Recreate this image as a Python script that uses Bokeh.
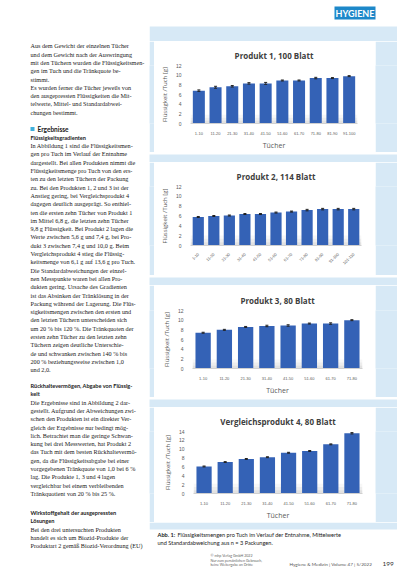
import math
from bokeh.plotting import figure
from bokeh.models import Range1d, FactorRange, ColumnDataSource, Whisker, FixedTicker, BoxAnnotation, Label
from bokeh.layouts import row, column
from bokeh.embed import file_html
from bokeh.resources import INLINE
from bokeh.core.properties import value

# ---------------- data ----------------
c1_cats = ["1-10", "11-20", "21-30", "31-40", "41-50", "51-60", "61-70", "71-80", "81-90", "91-100"]
c1_vals = [6.8, 7.5, 7.7, 8.3, 8.3, 8.9, 8.9, 9.4, 9.4, 9.8]
c1_sd = [0.15, 0.2, 0.15, 0.15, 0.2, 0.1, 0.1, 0.15, 0.1, 0.1]

c2_cats = ["1-10", "11-20", "21-30", "31-40", "41-50", "51-60", "61-70", "71-80", "81-90", "91-100", "101-110"]
c2_vals = [5.8, 6.0, 6.1, 6.4, 6.4, 6.7, 6.9, 7.2, 7.4, 7.4, 7.4]
c2_sd = [0.1, 0.1, 0.1, 0.1, 0.1, 0.1, 0.1, 0.15, 0.15, 0.15, 0.15]

c3_cats = ["1-10", "11-20", "21-30", "31-40", "41-50", "51-60", "61-70", "71-80"]
c3_vals = [7.4, 8.0, 8.6, 8.8, 8.9, 9.3, 9.3, 10.0]
c3_sd = [0.1, 0.1, 0.1, 0.15, 0.15, 0.1, 0.15, 0.1]

c4_cats = ["1-10", "11-20", "21-30", "31-40", "41-50", "51-60", "61-70", "71-80"]
c4_vals = [6.1, 7.1, 7.8, 8.2, 9.2, 9.6, 11.1, 13.6]
c4_sd = [0.1, 0.1, 0.1, 0.1, 0.1, 0.1, 0.1, 0.15]

titles = ["Produkt 1, 100 Blatt", "Produkt 2, 114 Blatt", "Produkt 3, 80 Blatt", "Vergleichsprodukt 4, 80 Blatt"]
y_label = "Flüssigkeit /Tuch [g]"
x_label = "Tücher"
x_note = "(z.g. Vergleichbarkeit ohne Blatt 111-114)"

body_p1 = [
    "Aus dem Gewicht der einzelnen Tücher",
    "und dem Gewicht nach der Auswringung",
    "mit den Tüchern wurden die Flüssigkeitsmen-",
    "gen im Tuch und die Tränkquote be-",
    "stimmt.",
    "   Es wurden ferner die Tücher jeweils von",
    "den ausgepressten Flüssigkeiten die Mit-",
    "telwerte, Mittel- und Standardabwei-",
    "chungen bestimmt.",
]
head_1 = "Ergebnisse"
head_1b = "Flüssigkeitsgradienten"
body_p2 = [
    "In Abbildung 1 sind die Flüssigkeitsmen-",
    "gen pro Tuch im Verlauf der Entnahme",
    "dargestellt. Bei allen Produkten nimmt die",
    "Flüssigkeitsmenge pro Tuch von den ers-",
    "ten zu den letzten Tüchern der Packung",
    "zu. Bei den Produkten 1, 2 und 3 ist der",
    "Anstieg gering, bei Vergleichsprodukt 4",
    "dagegen deutlich ausgeprägt. So enthiel-",
    "ten die ersten zehn Tücher von Produkt 1",
    "im Mittel 6,8 g, die letzten zehn Tücher",
    "9,8 g Flüssigkeit. Bei Produkt 2 lagen die",
    "Werte zwischen 5,6 g und 7,4 g, bei Pro-",
    "dukt 3 zwischen 7,4 g und 10,0 g. Beim",
    "Vergleichsprodukt 4 stieg die Flüssig-",
    "keitsmenge von 6,1 g auf 13,6 g pro Tuch.",
    "Die Standardabweichungen der einzel-",
    "nen Messpunkte waren bei allen Pro-",
    "dukten gering. Ursache des Gradienten",
    "ist das Absinken der Tränklösung in der",
    "Packung während der Lagerung. Die Flüs-",
    "sigkeitsmengen zwischen den ersten und",
    "den letzten Tüchern unterscheiden sich",
    "um 20 % bis 120 %. Die Tränkquoten der",
    "ersten zehn Tücher zu den letzten zehn",
    "Tüchern zeigen deutliche Unterschie-",
    "de und schwanken zwischen 140 % bis",
    "200 % beziehungsweise zwischen 1,0",
    "und 2,0.",
]
head_2 = ["Rückhaltevermögen, Abgabe von Flüssig-", "keit"]
body_p3 = [
    "Die Ergebnisse sind in Abbildung 2 dar-",
    "gestellt. Aufgrund der Abweichungen zwi-",
    "schen den Produkten ist ein direkter Ver-",
    "gleich der Ergebnisse nur bedingt mög-",
    "lich. Betrachtet man die geringe Schwan-",
    "kung bei drei Messwerten, hat Produkt 2",
    "das Tuch mit dem besten Rückhaltevermö-",
    "gen, da die Flüssigkeitsabgabe bei einer",
    "vorgegebenen Tränkquote von 1,0 bei 6 %",
    "lag. Die Produkte 1, 3 und 4 lagen",
    "vergleichbar bei einem verbleibenden",
    "Tränkquotient von 20 % bis 25 %.",
]
head_3 = ["Wirkstoffgehalt der ausgepressten", "Lösungen"]
body_p4 = [
    "Bei den drei untersuchten Produkten",
    "handelt es sich um Biozid-Produkte der",
    "Produktart 2 gemäß Biozid-Verordnung (EU)",
]
caption_lead = "Abb. 1:"
caption = ["Flüssigkeitsmengen pro Tuch im Verlauf der Entnahme, Mittelwerte",
           "und Standardabweichung aus n = 3 Packungen."]
footer_small = ["© mhp Verlag GmbH 2022", "Nur zum persönlichen Gebrauch,", "keine Weitergabe an Dritte"]
footer_journal = "Hygiene & Medizin | Volume 47 | 5/2022"
page_no = "199"
tag_text = "HYGIENE"

# ---------------- style ----------------
BOX = "#d7e9f6"
BAR = "#3462b6"
SANS = "Lato"
SERIF = "Liberation Serif"


def deco(w, h, x0, x1, y0, y1, bg="white"):
    f = figure(width=w, height=h, x_range=Range1d(x0, x1), y_range=Range1d(y1, y0),
               toolbar_location=None, output_backend="svg", min_border=0,
               x_axis_location=None, y_axis_location=None,
               background_fill_color=bg, border_fill_color=bg, outline_line_color=None)
    f.xgrid.grid_line_color = None
    f.ygrid.grid_line_color = None
    return f


def chart(cats, vals, sds, title, ymax, h, lb, rb, tb, bb, rotate=False, note=False):
    src = ColumnDataSource(dict(x=cats, top=vals,
                                up=[v + s for v, s in zip(vals, sds)],
                                lo=[v - s for v, s in zip(vals, sds)]))
    p = figure(width=221, height=h, x_range=FactorRange(*cats), y_range=Range1d(0, ymax),
               toolbar_location=None, output_backend="svg",
               min_border_left=lb, min_border_right=rb, min_border_top=tb, min_border_bottom=bb,
               background_fill_color="white", border_fill_color="white", outline_line_color=None)
    frame_h = h - tb - bb
    band = 10 / (frame_h / ymax)
    for k, a in enumerate([0.55, 0.32, 0.15]):
        p.add_layout(BoxAnnotation(bottom=band * k / 3, top=band * (k + 1) / 3,
                                   fill_color="#c8c8c8", fill_alpha=a, line_color=None, level="underlay"))
    p.vbar(x="x", top="top", width=0.72, source=src, fill_color=BAR, line_color=None)
    wh = Whisker(source=src, base="x", upper="up", lower="lo", line_color="#222", line_width=0.7, level="overlay")
    wh.upper_head.size = 3
    wh.lower_head.size = 3
    wh.upper_head.line_color = "#222"
    wh.lower_head.line_color = "#222"
    p.add_layout(wh)

    p.title.text = title
    p.title.align = "center"
    p.title.offset = -8
    p.title.text_font = "Open Sans"
    p.title.text_font_size = "8px"
    p.title.text_font_style = "bold"
    p.title.text_color = "#404040"

    p.xgrid.grid_line_color = None
    p.ygrid.grid_line_color = None

    p.yaxis.ticker = FixedTicker(ticks=list(range(0, ymax + 1, 2)))
    p.yaxis.axis_line_color = None
    p.yaxis.major_tick_line_color = None
    p.yaxis.minor_tick_line_color = None
    p.yaxis.major_label_text_font_size = "5px"
    p.yaxis.major_label_text_color = "#595959"
    p.yaxis.major_label_standoff = 3
    p.yaxis.axis_label = y_label
    p.yaxis.axis_label_text_font = "Open Sans"
    p.yaxis.axis_label_text_font_size = "6px"
    p.yaxis.axis_label_text_font_style = "normal"
    p.yaxis.axis_label_text_color = "#595959"
    p.yaxis.axis_label_standoff = 4

    p.xaxis.axis_line_color = "#d0d0d0"
    p.xaxis.major_tick_line_color = None
    p.xaxis.minor_tick_line_color = None
    p.xaxis.major_label_text_font_size = "4px"
    p.xaxis.major_label_text_color = "#595959"
    p.xaxis.major_label_standoff = 2
    if rotate:
        p.xaxis.major_label_orientation = math.pi / 4
    if note:
        p.xaxis.axis_label = None
        unit = frame_h / ymax
        p.add_layout(Label(x=2.45, y=-23 / unit, text=x_label, text_align="right", text_baseline="middle",
                           text_font="Open Sans", text_font_size="7px", text_color="#595959"))
        p.add_layout(Label(x=2.6, y=-23.5 / unit, text=x_note, text_align="left", text_baseline="middle",
                           text_font="Open Sans", text_font_size="4.3px", text_color="#595959"))
    else:
        p.xaxis.axis_label = x_label
        p.xaxis.axis_label_text_font = "Open Sans"
        p.xaxis.axis_label_text_font_size = "7px"
        p.xaxis.axis_label_text_font_style = "normal"
        p.xaxis.axis_label_text_color = "#595959"
        p.xaxis.axis_label_standoff = 3
    return p


# ---------------- left text column ----------------
left = deco(149, 569, 8, 157, 8, 577)
STEP = 8.3


def put(lines, y0, x0=38, font=SERIF, size="6.2px", style="normal", color="#1a1a1a"):
    ys = [y0 + i * STEP for i in range(len(lines))]
    left.text(x=[x0] * len(lines), y=ys, text=lines, text_font=value(font), text_font_size=size,
              text_font_style=style, text_color=color, text_baseline="middle")


put(body_p1, 53.3)
left.rect(x=[40], y=[136.5], width=4, height=4, fill_color="#3fb0dc", line_color=None)
put([head_1], 136.5, x0=45, font=SANS, size="6.5px", style="bold")
put([head_1b], 144.8, font=SANS, size="5.6px", style="bold")
put(body_p2, 153.1)
put(head_2, 393, font=SANS, size="5.6px", style="bold")
put(body_p3, 409.6)
put(head_3, 520, font=SANS, size="5.6px", style="bold")
put(body_p4, 536.6)

# ---------------- right column ----------------
top = deco(248, 41, 157, 405, 8, 49)
top.quad(left=[157], right=[405], top=[34], bottom=[49], fill_color=BOX, line_color=None)
top.quad(left=[342], right=[383], top=[14], bottom=[27], fill_color="#1d88c9", line_color=None)
top.text(x=[362.5], y=[21], text=[tag_text], text_font=value(SANS), text_font_size="9px",
         text_font_style="bold", text_color="white", text_align="center", text_baseline="middle")


def card_row(p, h):
    return row(deco(5, h, 0, 1, 0, 1, BOX), p, deco(22, h, 0, 1, 0, 1, BOX))


def gap_row(h=10):
    return deco(248, h, 0, 1, 0, 1, BOX)


ch1 = chart(c1_cats, c1_vals, c1_sd, titles[0], 12, 111, 36, 18, 24, 20)
ch2 = chart(c2_cats, c2_vals, c2_sd, titles[1], 12, 113, 36, 14, 24, 30, rotate=True, note=True)
ch3 = chart(c3_cats, c3_vals, c3_sd, titles[2], 12, 112, 38, 13, 25, 23)
ch4 = chart(c4_cats, c4_vals, c4_sd, titles[3], 14, 115, 39, 13, 24, 28)

bottom = deco(248, 47, 157, 405, 530, 577)
bottom.quad(left=[157], right=[405], top=[530], bottom=[537], fill_color=BOX, line_color=None)
bottom.text(x=[165], y=[541.5], text=[caption_lead], text_font=value(SANS), text_font_size="5.6px",
            text_font_style="bold", text_color="#1a1a1a", text_baseline="middle")
bottom.text(x=[185, 165], y=[541.5, 549.5], text=caption, text_font=value(SANS), text_font_size="5.6px",
            text_color="#1a1a1a", text_baseline="middle")
bottom.text(x=[218] * 3, y=[563, 567.5, 572], text=footer_small, text_font=value(SANS), text_font_size="3.6px",
            text_color="#666666", text_baseline="middle")
bottom.text(x=[297], y=[571], text=[footer_journal], text_font=value(SANS), text_font_size="4.6px",
            text_color="#555555", text_baseline="middle")
bottom.text(x=[390], y=[571], text=[page_no], text_font=value(SANS), text_font_size="6.5px",
            text_color="#333333", text_baseline="middle")

right = column(top, card_row(ch1, 111), gap_row(), card_row(ch2, 113), gap_row(),
               card_row(ch3, 112), gap_row(), card_row(ch4, 115), bottom)
page = row(left, right)

open("out.html", "w").write(file_html(page, INLINE))
